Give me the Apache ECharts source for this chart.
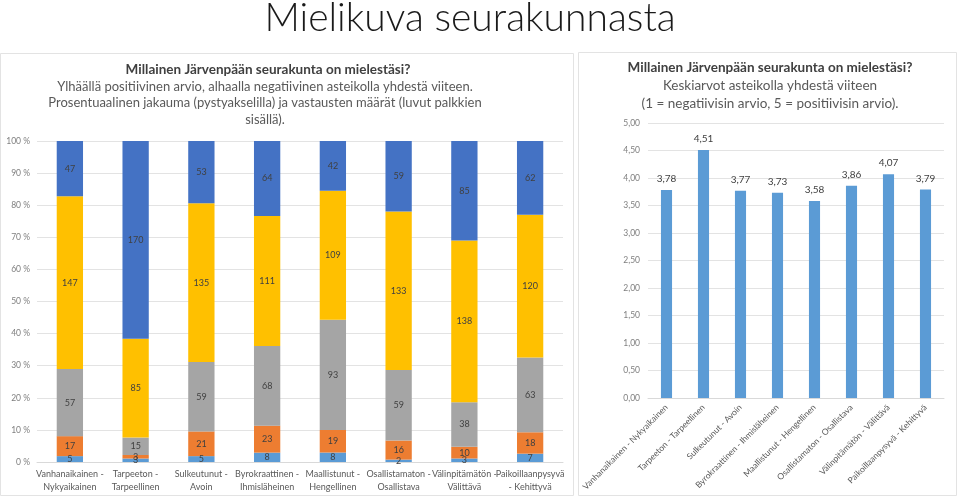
<!DOCTYPE html>
<html><head><meta charset="utf-8">
<script src="https://cdn.jsdelivr.net/npm/echarts@6/dist/echarts.min.js"></script>
<style>html,body{margin:0;padding:0;background:#fff}#c{width:959px;height:499px}</style>
</head><body><div id="c"></div>
<script>
const categoriesLeft = ['Vanhanaikainen -\nNykyaikainen','Tarpeeton -\nTarpeellinen','Sulkeutunut -\nAvoin','Byrokraattinen -\nIhmisläheinen','Maallistunut -\nHengellinen','Osallistamaton -\nOsallistava','Välinpitämätön -\nVälittävä','Paikoillaanpysyvä\n- Kehittyvä'];
const categoriesRight = ['Vanhanaikainen - Nykyaikainen','Tarpeeton - Tarpeellinen','Sulkeutunut - Avoin','Byrokraattinen - Ihmisläheinen','Maallistunut - Hengellinen','Osallistamaton - Osallistava','Välinpitämätön - Välittävä','Paikoillaanpysyvä - Kehittyvä'];
const count1 = [5,3,5,8,8,2,3,7];
const count2 = [17,3,21,23,19,16,10,18];
const count3 = [57,15,59,68,93,59,38,63];
const count4 = [147,85,135,111,109,133,138,120];
const count5 = [47,170,53,64,42,59,85,62];
const averages = [3.78,4.51,3.77,3.73,3.58,3.86,4.07,3.79];
const leftTicks = {min:0,max:100,interval:10};
const rightTicks = {min:0,max:5,interval:0.5};

const counts = [count1,count2,count3,count4,count5];
const totals = categoriesLeft.map((_,i)=>counts.reduce((s,a)=>s+a[i],0));
const colors = ['#5B9BD5','#ED7D31','#A5A5A5','#FFC000','#4472C4'];
const FONT = 'Lato';

const stackSeries = counts.map((arr,k)=>({
  type:'bar', stack:'s', xAxisIndex:0, yAxisIndex:0, barWidth:'40%',
  data: arr.map((v,i)=>v/totals[i]*100),
  itemStyle:{color:colors[k]},
  label:{show:true, position:'inside', color:'#404040', fontSize:9, fontFamily:FONT,
    formatter:p=>String(arr[p.dataIndex])},
  emphasis:{disabled:true}
}));

function txt(x,y,text,size,weight,color,lh,va){
  return {type:'text', x:x, y:y, style:{text:text, fontFamily:FONT, fontSize:size, fontWeight:weight,
    fill:color, lineHeight:lh, textAlign:'center', textVerticalAlign:va}};
}

const chart = echarts.init(document.getElementById('c'),null,{renderer:'canvas'});
chart.setOption({
  animation:false,
  backgroundColor:'#fff',
  textStyle:{fontFamily:FONT},
  graphic:[
    {type:'rect', shape:{x:0.5,y:53.5,width:573,height:442}, style:{fill:'none',stroke:'#E3E3E3',lineWidth:1}, z:-1},
    {type:'rect', shape:{x:578.5,y:52.5,width:378,height:443}, style:{fill:'none',stroke:'#E3E3E3',lineWidth:1}, z:-1},
    txt(470,18,'Mielikuva seurakunnasta',39,300,'#1a1a1a',40,'middle'),
    txt(268,70,'Millainen Järvenpään seurakunta on mielestäsi?',13.5,'bold','#404040',16,'middle'),
    txt(265,79,'Ylhäällä positiivinen arvio, alhaalla negatiivinen asteikolla yhdestä viiteen.\nProsentuaalinen jakauma (pystyakselilla) ja vastausten määrät (luvut palkkien\nsisällä).',13,'normal','#595959',16.2,'top'),
    txt(770,68,'Millainen Järvenpään seurakunta on mielestäsi?',13.5,'bold','#404040',16,'middle'),
    txt(770,77,'Keskiarvot asteikolla yhdestä viiteen\n(1 = negatiivisin arvio, 5 = positiivisin arvio).',13.5,'normal','#595959',17.5,'top')
  ],
  grid:[
    {left:37, right:396, top:141, bottom:37},
    {left:648, right:15, top:123, bottom:101}
  ],
  xAxis:[
    {type:'category', gridIndex:0, data:categoriesLeft,
     axisLine:{lineStyle:{color:'#D9D9D9'}}, axisTick:{show:false},
     axisLabel:{color:'#595959', fontSize:9, lineHeight:13, margin:6, interval:0, fontFamily:FONT}},
    {type:'category', gridIndex:1, data:categoriesRight,
     axisLine:{lineStyle:{color:'#D9D9D9'}}, axisTick:{show:false},
     axisLabel:{color:'#595959', fontSize:8.5, rotate:45, margin:8, interval:0, fontFamily:FONT}}
  ],
  yAxis:[
    {type:'value', gridIndex:0, min:leftTicks.min, max:leftTicks.max, interval:leftTicks.interval,
     axisLine:{show:false}, axisTick:{show:false},
     splitLine:{lineStyle:{color:'#E3E3E3'}},
     axisLabel:{color:'#7F7F7F', fontSize:8.5, margin:7, formatter:'{value} %', fontFamily:FONT}},
    {type:'value', gridIndex:1, min:rightTicks.min, max:rightTicks.max, interval:rightTicks.interval,
     axisLine:{show:false}, axisTick:{show:false},
     splitLine:{lineStyle:{color:'#E3E3E3'}},
     axisLabel:{color:'#7F7F7F', fontSize:8.5, margin:8, fontFamily:FONT,
       formatter:v=>v.toFixed(2).replace('.',',')}}
  ],
  series: stackSeries.concat([{
    type:'bar', xAxisIndex:1, yAxisIndex:1, barWidth:'30%', data:averages,
    itemStyle:{color:'#5B9BD5'},
    label:{show:true, position:'top', distance:6, color:'#404040', fontSize:10, fontFamily:FONT,
      formatter:p=>p.value.toFixed(2).replace('.',',')},
    emphasis:{disabled:true}
  }])
});
</script></body></html>
